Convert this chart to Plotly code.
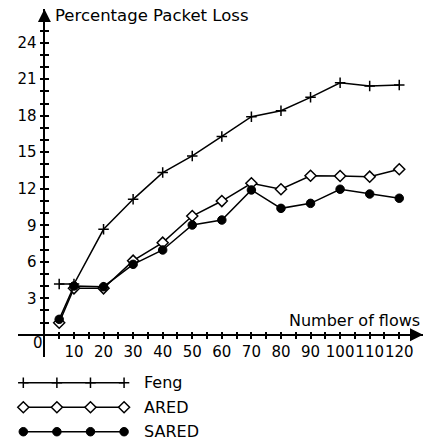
import plotly.graph_objects as go

# ---- data ----
flows = [5, 10, 20, 30, 40, 50, 60, 70, 80, 90, 100, 110, 120]
feng = [4.17, 4.17, 8.67, 11.13, 13.33, 14.7, 16.3, 17.92, 18.41, 19.51, 20.71, 20.44, 20.53]
ared = [0.99, 3.82, 3.82, 6.09, 7.57, 9.76, 10.99, 12.45, 11.96, 13.07, 13.05, 12.99, 13.6]
sared = [1.27, 4.01, 3.95, 5.79, 6.97, 9.02, 9.43, 11.9, 10.39, 10.8, 11.96, 11.57, 11.22]
series_names = ["Feng", "ARED", "SARED"]

x_tickvals = list(range(5, 121, 5))
x_ticktext = [str(v) if v % 10 == 0 else "" for v in x_tickvals]
y_tickvals = list(range(1, 26))
y_ticktext = [str(v) if v % 3 == 0 else "" for v in y_tickvals]

y_title = "Percentage Packet Loss"
x_title = "Number of flows"

# ---- layout geometry ----
W, H = 429, 442
ML, MR, MT, MB = 18, 6, 9, 0
PW, PH = W - ML - MR, H - MT - MB
X_RANGE = [-8.93, 128.03]
Y_RANGE = [-1.8, 26.77]
main_bottom_px = 356.7
ydom = [(H - main_bottom_px) / PH, 1.0]
xpos = (0 - X_RANGE[0]) / (X_RANGE[1] - X_RANGE[0])
ypos = ydom[0] + (0 - Y_RANGE[0]) / (Y_RANGE[1] - Y_RANGE[0]) * (ydom[1] - ydom[0])

FONT = "DejaVu Sans"
BLACK = "black"

styles = {
    "Feng": dict(symbol="cross-thin", size=7.5, color=BLACK, line=dict(width=1.5, color=BLACK)),
    "ARED": dict(symbol="diamond", size=8.5, color="white", line=dict(width=1.5, color=BLACK)),
    "SARED": dict(symbol="circle", size=8.5, color=BLACK, line=dict(width=1, color=BLACK)),
}
values = {"Feng": feng, "ARED": ared, "SARED": sared}

fig = go.Figure()
for name in series_names:
    fig.add_trace(go.Scatter(
        x=flows, y=values[name], name=name, mode="lines+markers",
        line=dict(color=BLACK, width=1.5), marker=styles[name],
        showlegend=False, cliponaxis=False,
    ))

# overlay axes for the inner half of the crossing ticks
fig.add_trace(go.Scatter(x=[None], y=[None], xaxis="x2", yaxis="y2",
                         showlegend=False, hoverinfo="skip"))

# custom legend (line samples with four markers each)
leg_x = [0, 1, 2, 3]
for i, name in enumerate(series_names):
    fig.add_trace(go.Scatter(
        x=leg_x, y=[-i] * len(leg_x), mode="lines+markers",
        line=dict(color=BLACK, width=1.5), marker=styles[name],
        xaxis="x3", yaxis="y3", showlegend=False, hoverinfo="skip", cliponaxis=False,
    ))
    fig.add_annotation(x=3.52, y=-i, xref="x3", yref="y3", text=name,
                       showarrow=False, xanchor="left", yanchor="middle",
                       font=dict(family=FONT, size=16, color=BLACK))

# axis arrow heads, drawn as filled arrow markers whose tips sit at the axis ends
fig.add_trace(go.Scatter(x=[0, X_RANGE[1]], y=[Y_RANGE[1], 0], mode="markers",
                         cliponaxis=False, showlegend=False, hoverinfo="skip",
                         marker=dict(symbol=["arrow-up", "arrow-right"], size=13,
                                     color=BLACK, line=dict(width=0))))

tickfont = dict(family=FONT, size=15, color=BLACK)
common_x = dict(range=X_RANGE, tickmode="array", tickvals=x_tickvals,
                showgrid=False, zeroline=False, tickcolor=BLACK, tickwidth=1.5,
                ticklen=3, anchor="free", position=ypos, side="bottom", tickangle=0)
common_y = dict(range=Y_RANGE, tickmode="array", tickvals=y_tickvals,
                showgrid=False, zeroline=False, tickcolor=BLACK, tickwidth=1.5,
                ticklen=4, anchor="free", position=xpos, side="left")

fig.update_layout(
    width=W, height=H,
    margin=dict(l=ML, r=MR, t=MT, b=MB, pad=0),
    paper_bgcolor="white", plot_bgcolor="white",
    font=dict(family=FONT, color=BLACK),
    xaxis=dict(**common_x, domain=[0, 1], ticktext=x_ticktext, ticks="outside",
               showline=True, linecolor=BLACK, linewidth=1.5, tickfont=tickfont),
    yaxis=dict(**common_y, domain=ydom, ticktext=y_ticktext, ticks="outside",
               showline=True, linecolor=BLACK, linewidth=1.5, tickfont=tickfont),
    xaxis2=dict(**common_x, overlaying="x", ticks="inside", showticklabels=False,
                showline=False),
    yaxis2=dict(**common_y, overlaying="y", ticks="inside", showticklabels=False,
                showline=False),
    xaxis3=dict(domain=[0, 1], range=[-0.158, 11.9], anchor="y3", visible=False),
    yaxis3=dict(domain=[0, 72 / PH], range=[-2.42, 0.52], anchor="x3", visible=False),
    showlegend=False,
)

# origin label and axis titles
fig.add_annotation(x=0, y=0, xref="x", yref="y", text="0", showarrow=False,
                   xanchor="center", yanchor="middle", xshift=-6, yshift=-8.5,
                   font=tickfont)
fig.add_annotation(x=(53 - ML) / PW, y=(H - 15) / PH, xref="paper", yref="paper",
                   text=y_title, showarrow=False, xanchor="left", yanchor="middle",
                   font=dict(family=FONT, size=16.5, color=BLACK))
fig.add_annotation(x=(421.7 - ML) / PW, y=(H - 320) / PH, xref="paper", yref="paper",
                   text=x_title, showarrow=False, xanchor="right", yanchor="middle",
                   font=dict(family=FONT, size=16, color=BLACK))

fig.write_html("out.html")
